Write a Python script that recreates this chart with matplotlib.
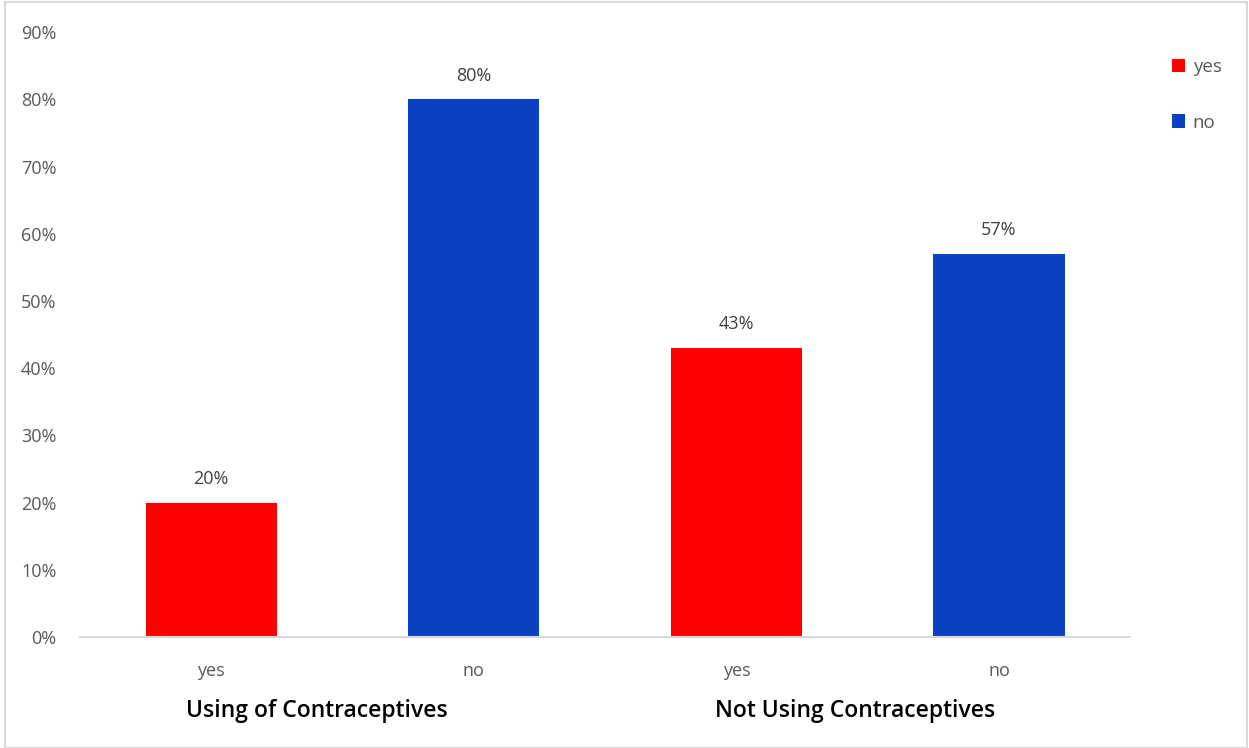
import numpy as np
import matplotlib.pyplot as plt
from matplotlib.patches import Patch, Rectangle
from matplotlib.ticker import PercentFormatter

# Data
categories = ['yes', 'no', 'yes', 'no']
values = [0.20, 0.80, 0.43, 0.57]
bar_colors = ['#FF0000', '#0A41C0', '#FF0000', '#0A41C0']
groups = ['Using of Contraceptives', 'Not Using Contraceptives']
yticks = np.arange(0, 1.0, 0.1)

plt.rcParams['font.family'] = ['Open Sans', 'DejaVu Sans']

fig = plt.figure(figsize=(12.49, 7.48), dpi=100)
ax = fig.add_axes([0.064, 0.1484, 0.841, 0.8086])

x = np.arange(len(categories))
bars = ax.bar(x, values, width=0.5, color=bar_colors)

# value labels
for xi, v in zip(x, values):
    ax.text(xi, v + 0.022, f"{v*100:.0f}%", ha='center', va='bottom',
            fontsize=13, color='#404040')

ax.set_xlim(-0.5, 3.5)
ax.set_ylim(0, 0.9)
ax.set_yticks(yticks)
ax.yaxis.set_major_formatter(PercentFormatter(1.0, decimals=0))
ax.set_xticks(x)
ax.set_xticklabels(categories)
ax.tick_params(axis='both', length=0, labelsize=13, labelcolor='#595959')
ax.tick_params(axis='x', pad=18)
ax.tick_params(axis='y', pad=17)

for s in ['top', 'right', 'left']:
    ax.spines[s].set_visible(False)
ax.spines['bottom'].set_color('#D9D9D9')
ax.spines['bottom'].set_linewidth(1.5)

# group labels
trans = ax.get_xaxis_transform()
ax.text(0.403, -0.122, groups[0], transform=trans, ha='center', va='center',
        fontsize=16.5, fontweight='semibold', color='black')
ax.text(2.452, -0.122, groups[1], transform=trans, ha='center', va='center',
        fontsize=16.5, fontweight='semibold', color='black')

# legend
handles = [Patch(facecolor='#FF0000', label='yes'),
           Patch(facecolor='#0A41C0', label='no')]
fig.legend(handles=handles, loc='upper left', bbox_to_anchor=(0.925, 0.945),
           frameon=False, fontsize=13.5, labelcolor='#595959',
           handlelength=0.7, handleheight=0.7, handletextpad=0.4,
           labelspacing=2.0)

# outer border
fig.patches.append(Rectangle((0.004, 0.0), 0.994, 0.997, transform=fig.transFigure,
                             fill=False, edgecolor='#D9D9D9', linewidth=1.5))

fig.savefig('out.png', dpi=100)
